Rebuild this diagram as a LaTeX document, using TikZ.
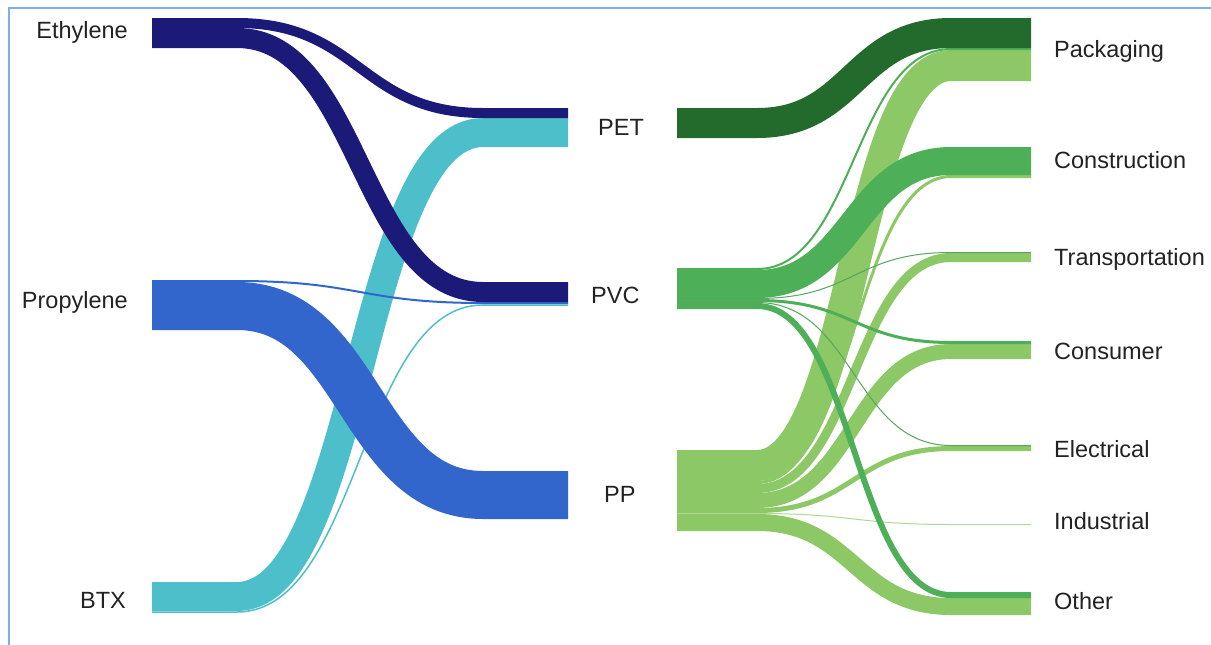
\documentclass[tikz,border=0pt]{standalone}
\usepackage{fontspec}
\setmainfont{Liberation Sans}
\definecolor{ethc}{HTML}{1C1A78}
\definecolor{proc}{HTML}{3366CC}
\definecolor{btxc}{HTML}{4CBFCB}
\definecolor{petc}{HTML}{226B2C}
\definecolor{pvcc}{HTML}{4DAF58}
\definecolor{ppc}{HTML}{8CC866}
\definecolor{framec}{HTML}{7EAEE6}
\definecolor{txtc}{HTML}{222222}
% color, source, target, width, flat length, control offset
\newcommand\sflow[6]{%
  \draw[flowline, #1, line width=#4pt] (#2) -- ++(#5,0)
    .. controls +(#6,0) and +(-#6,0) .. ([xshift=-#5pt]#3) -- (#3);}
\begin{document}
\begin{tikzpicture}[x=1pt,y=-1pt,
  flowline/.style={line cap=butt, line join=round},
  lbl/.style={inner sep=0pt, text=txtc, font=\fontsize{23.5}{28}\selectfont},
  framestyle/.style={draw=framec, line width=1.5pt}]
\useasboundingbox (0,0) rectangle (1211,645);
\draw[framestyle] (9,645) |- (1211,8);

% ---- left column link ends (x=152) and middle inputs (x=568)
\coordinate (ethPETs) at (152,23);   \coordinate (ethPETt) at (568,113);
\coordinate (ethPVCs) at (152,38);   \coordinate (ethPVCt) at (568,292);
\coordinate (proPVCs) at (152,281);  \coordinate (proPVCt) at (568,303);
\coordinate (proPPs)  at (152,306);  \coordinate (proPPt)  at (568,495);
\coordinate (btxPETs) at (152,596.5);\coordinate (btxPETt) at (568,132.5);
\coordinate (btxPVCs) at (152,612);  \coordinate (btxPVCt) at (568,305);

\sflow{btxc}{btxPVCs}{btxPVCt}{1.5}{85}{123}
\sflow{btxc}{btxPETs}{btxPETt}{29}{85}{123}
\sflow{proc}{proPPs}{proPPt}{48}{85}{123}
\sflow{proc}{proPVCs}{proPVCt}{2}{85}{123}
\sflow{ethc}{ethPETs}{ethPETt}{10}{85}{123}
\sflow{ethc}{ethPVCs}{ethPVCt}{20}{85}{123}

% ---- right links (x=677 -> 1031)
\coordinate (ppPacks)  at (677,465.5); \coordinate (ppPackt)  at (1031,65.5);
\coordinate (ppConss)  at (677,482.5); \coordinate (ppConst)  at (1031,176.5);
\coordinate (ppTrans)  at (677,488.5); \coordinate (ppTrant)  at (1031,257.5);
\coordinate (ppCnsms)  at (677,500.5); \coordinate (ppCnsmt)  at (1031,351.5);
\coordinate (ppElecs)  at (677,510.5); \coordinate (ppElect)  at (1031,448.5);
\coordinate (ppInds)   at (677,513.5); \coordinate (ppIndt)   at (1031,524.5);
\coordinate (ppOths)   at (677,522.5); \coordinate (ppOtht)   at (1031,606.5);
\coordinate (pvcPacks) at (677,269);   \coordinate (pvcPackt) at (1031,49);
\coordinate (pvcConss) at (677,284);   \coordinate (pvcConst) at (1031,161);
\coordinate (pvcTrans) at (677,298.5); \coordinate (pvcTrant) at (1031,252.5);
\coordinate (pvcCnsms) at (677,300.5); \coordinate (pvcCnsmt) at (1031,342.5);
\coordinate (pvcElecs) at (677,302.5); \coordinate (pvcElect) at (1031,445.5);
\coordinate (pvcOths)  at (677,306);   \coordinate (pvcOtht)  at (1031,595);
\coordinate (petPacks) at (677,123);   \coordinate (petPackt) at (1031,33);

\sflow{ppc}{ppPacks}{ppPackt}{31}{80}{97}
\sflow{ppc}{ppConss}{ppConst}{3}{80}{97}
\sflow{ppc}{ppTrans}{ppTrant}{9}{80}{97}
\sflow{ppc}{ppCnsms}{ppCnsmt}{15}{80}{97}
\sflow{ppc}{ppElecs}{ppElect}{5}{80}{97}
\sflow{ppc!70!white}{ppInds}{ppIndt}{1}{80}{97}
\sflow{ppc}{ppOths}{ppOtht}{17}{80}{97}
\sflow{pvcc}{pvcPacks}{pvcPackt}{2}{80}{97}
\sflow{pvcc}{pvcConss}{pvcConst}{28}{80}{97}
\sflow{pvcc!80!gray}{pvcTrans}{pvcTrant}{1}{80}{97}
\sflow{pvcc}{pvcCnsms}{pvcCnsmt}{3}{80}{97}
\sflow{pvcc!80!gray}{pvcElecs}{pvcElect}{1}{80}{97}
\sflow{pvcc}{pvcOths}{pvcOtht}{6}{80}{97}
\sflow{petc}{petPacks}{petPackt}{30}{80}{97}

% ---- labels
\node[lbl, anchor=east] (ethylene)  at (128,32)  {Ethylene};
\node[lbl, anchor=east] (propylene) at (128,302) {Propylene};
\node[lbl, anchor=east] (btx)       at (126,600) {BTX};
\node[lbl, anchor=west] (pet) at (598,127) {PET};
\node[lbl, anchor=west] (pvc) at (591,295) {PVC};
\node[lbl, anchor=west] (pp)  at (604,494) {PP};
\node[lbl, anchor=west] (packaging)      at (1054,51)  {Packaging};
\node[lbl, anchor=west] (construction)   at (1054,160) {Construction};
\node[lbl, anchor=west] (transportation) at (1054,259) {Transportation};
\node[lbl, anchor=west] (consumer)       at (1054,351) {Consumer};
\node[lbl, anchor=west] (electrical)     at (1054,449) {Electrical};
\node[lbl, anchor=west] (industrial)     at (1054,521) {Industrial};
\node[lbl, anchor=west] (other)          at (1054,601) {Other};
\end{tikzpicture}
\end{document}
